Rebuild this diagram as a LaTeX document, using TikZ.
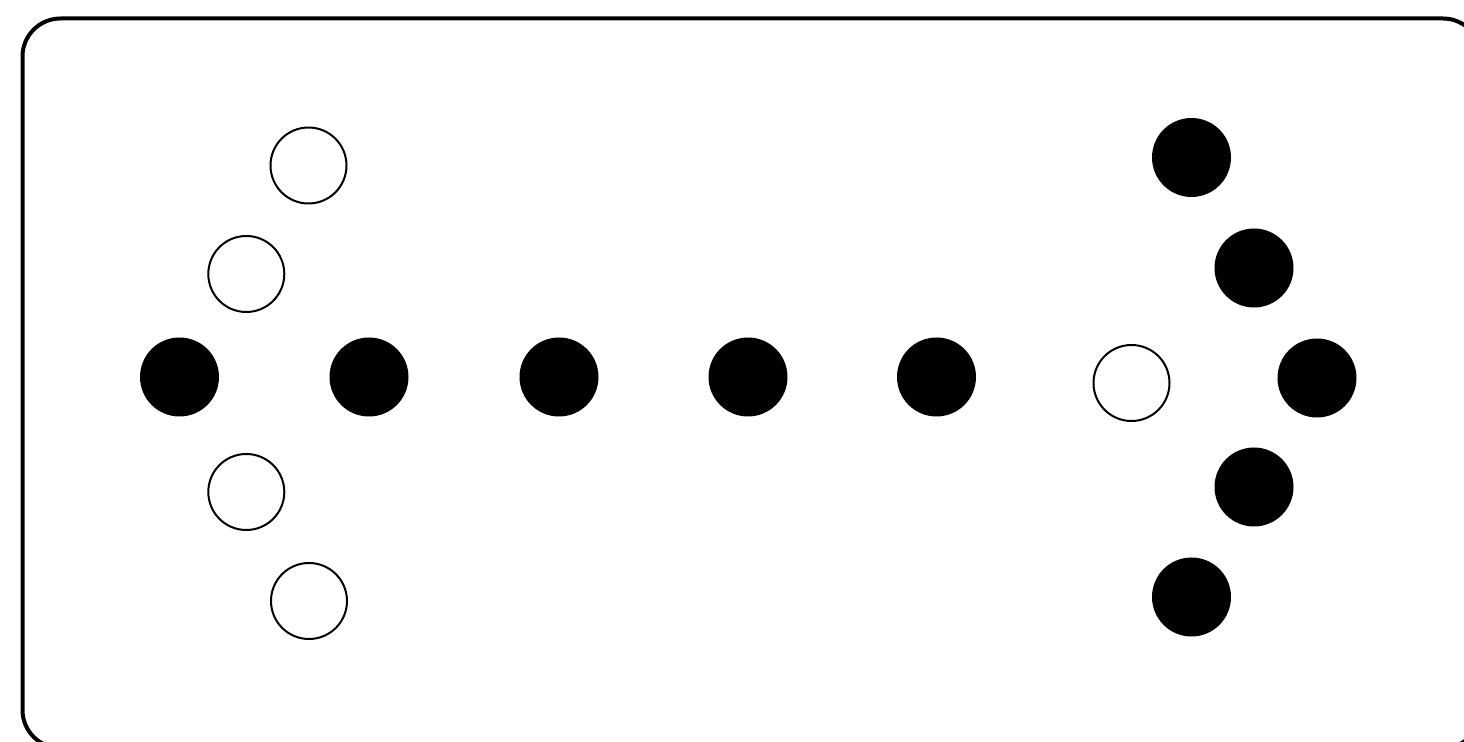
\documentclass[tikz,border=0pt]{standalone}
\begin{document}
\begin{tikzpicture}[x=0.5pt,y=-0.5pt,
  wdot/.style={circle,draw=black,fill=white,line width=1pt,minimum size=38pt,inner sep=0pt},
  bdot/.style={circle,fill=black,draw=none,minimum size=39.5pt,inner sep=0pt},
  frame/.style={draw=black,line width=2pt,rounded corners=19pt}]
\useasboundingbox (0,0) rectangle (1464,742);
\begin{scope}
\clip (0,0) rectangle (1464,742);
\draw[frame] (22.5,18.5) rectangle (1481,748);
\end{scope}
% left arrow head (white)
\node[wdot] (w1) at (308.5,165.5) {};
\node[wdot] (w2) at (246.3,274) {};
\node[wdot] (w3) at (246.3,492) {};
\node[wdot] (w4) at (309,601) {};
% middle row
\node[bdot] (b1) at (179.5,377) {};
\node[bdot] (b2) at (369,377) {};
\node[bdot] (b3) at (559,377) {};
\node[bdot] (b4) at (748,377) {};
\node[bdot] (b5) at (936.5,377) {};
\node[wdot] (w5) at (1131.5,383) {};
% right arrow head (black)
\node[bdot] (r1) at (1191.5,157.5) {};
\node[bdot] (r2) at (1254,268) {};
\node[bdot] (r3) at (1317,378) {};
\node[bdot] (r4) at (1254,487) {};
\node[bdot] (r5) at (1191.5,597) {};
\end{tikzpicture}
\end{document}
